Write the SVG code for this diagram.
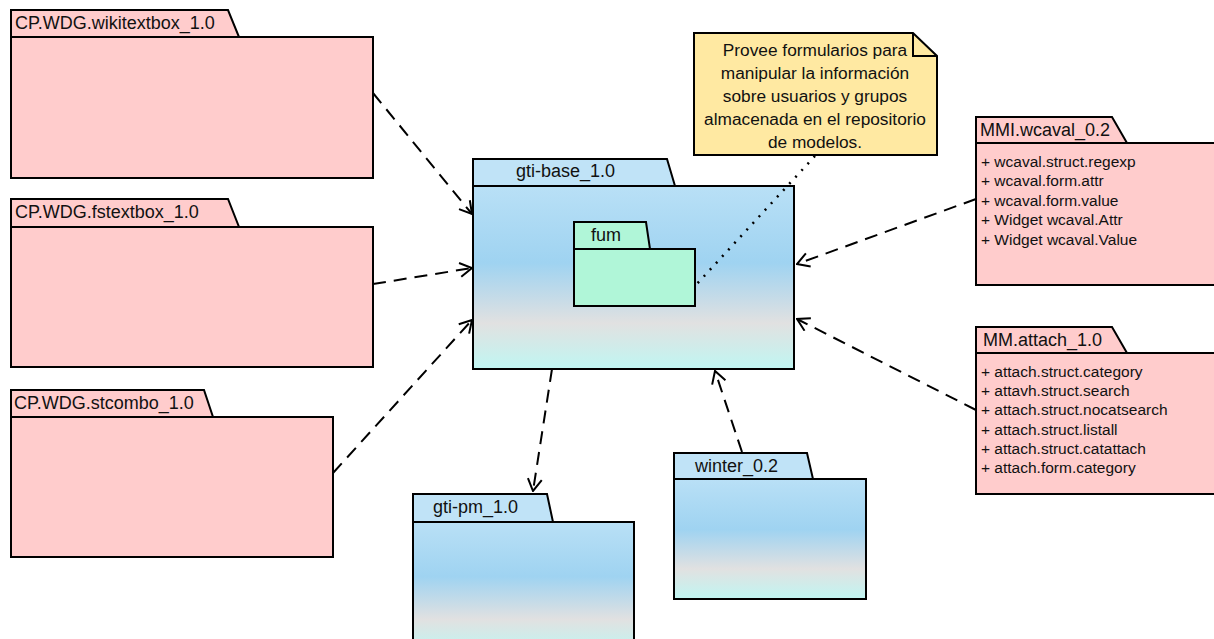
<svg xmlns="http://www.w3.org/2000/svg" width="1214" height="639" viewBox="0 0 1214 639">
<defs>
<linearGradient id="blue" x1="0" y1="0" x2="0" y2="1">
<stop offset="0" stop-color="#b9e0f6"/>
<stop offset="0.42" stop-color="#9fd3f1"/>
<stop offset="0.75" stop-color="#e1e1e1"/>
<stop offset="1" stop-color="#c0f6f2"/>
</linearGradient>
<marker id="arr" viewBox="0 0 14 16" refX="13" refY="8" markerWidth="14" markerHeight="16" markerUnits="userSpaceOnUse" orient="auto">
<path d="M1,1 L13,8 L1,15" fill="none" stroke="#000" stroke-width="2"/>
</marker>
<style>
.pk{stroke:#000;stroke-width:2;}
.pink{fill:#ffcccc;}
.tabb{fill:#c0e3f7;}
.bb{fill:url(#blue);}
.t{font-family:"Liberation Sans",Arial,sans-serif;font-size:18px;fill:#111;}
.s{font-family:"Liberation Sans",Arial,sans-serif;font-size:15.5px;fill:#111;}
.n{font-family:"Liberation Sans",Arial,sans-serif;font-size:17.3px;fill:#111;text-anchor:middle;}
.dep{fill:none;stroke:#000;stroke-width:2;stroke-dasharray:13 8;marker-end:url(#arr);}
</style>
</defs>
<rect width="1214" height="639" fill="#fff"/>

<g id="wikitextbox">
<path class="pk pink" d="M11,10 L228,10 L239,37 L11,37 Z"/>
<rect class="pk pink" x="11" y="37" width="362" height="141"/>
<text class="t" x="15" y="29">CP.WDG.wikitextbox_1.0</text>
</g>

<g id="fstextbox">
<path class="pk pink" d="M11,199 L228,199 L239,227 L11,227 Z"/>
<rect class="pk pink" x="11" y="227" width="362" height="140"/>
<text class="t" x="15" y="218">CP.WDG.fstextbox_1.0</text>
</g>

<g id="stcombo">
<path class="pk pink" d="M11,390 L204,390 L213,417 L11,417 Z"/>
<rect class="pk pink" x="11" y="417" width="322" height="140"/>
<text class="t" x="14" y="409">CP.WDG.stcombo_1.0</text>
</g>

<g id="gti-base">
<path class="pk tabb" d="M473,159 L667,159 L675,186 L473,186 Z"/>
<rect class="pk bb" x="473" y="186" width="321" height="183"/>
<text class="t" x="516" y="177">gti-base_1.0</text>
</g>

<g id="fum">
<path class="pk" fill="#b0f6d8" d="M574,222 L646,222 L650,249 L574,249 Z"/>
<rect class="pk" fill="#b0f6d8" x="574" y="249" width="121" height="57"/>
<text class="t" x="591" y="241">fum</text>
</g>

<g id="note">
<path class="pk" fill="#ffe9a2" d="M694,33 L913,33 L937,56 L937,155 L694,155 Z"/>
<path fill="none" stroke="#000" stroke-width="2" d="M913,33 L913,56 L937,56"/>
<text class="n" x="815" y="56">Provee formularios para</text>
<text class="n" x="815" y="79">manipular la información</text>
<text class="n" x="815" y="102">sobre usuarios y grupos</text>
<text class="n" x="815" y="125">almacenada en el repositorio</text>
<text class="n" x="815" y="148">de modelos.</text>
</g>

<g id="wcaval">
<path class="pk pink" d="M976,117 L1112,117 L1127,143 L976,143 Z"/>
<rect class="pk pink" x="976" y="143" width="250" height="142"/>
<text class="t" x="980" y="136">MMI.wcaval_0.2</text>
<text class="s" x="981" y="167">+ wcaval.struct.regexp</text>
<text class="s" x="981" y="186">+ wcaval.form.attr</text>
<text class="s" x="981" y="206">+ wcaval.form.value</text>
<text class="s" x="981" y="225">+ Widget wcaval.Attr</text>
<text class="s" x="981" y="245">+ Widget wcaval.Value</text>
</g>

<g id="attach">
<path class="pk pink" d="M976,327 L1112,327 L1127,353 L976,353 Z"/>
<rect class="pk pink" x="976" y="353" width="250" height="141"/>
<text class="t" x="983" y="346">MM.attach_1.0</text>
<text class="s" x="981" y="377">+ attach.struct.category</text>
<text class="s" x="981" y="396">+ attavh.struct.search</text>
<text class="s" x="981" y="415">+ attach.struct.nocatsearch</text>
<text class="s" x="981" y="435">+ attach.struct.listall</text>
<text class="s" x="981" y="454">+ attach.struct.catattach</text>
<text class="s" x="981" y="473">+ attach.form.category</text>
</g>

<g id="gti-pm">
<path class="pk tabb" d="M413,494 L547,494 L553,522 L413,522 Z"/>
<rect class="pk bb" x="413" y="522" width="221" height="130"/>
<text class="t" x="433" y="513">gti-pm_1.0</text>
</g>

<g id="winter">
<path class="pk tabb" d="M674,453 L807,453 L813,479 L674,479 Z"/>
<rect class="pk bb" x="674" y="479" width="192" height="120"/>
<text class="t" x="695" y="472">winter_0.2</text>
</g>

<g id="connectors">
<path class="dep" d="M373,93 L472,214"/>
<path class="dep" d="M373,284 L472,268"/>
<path class="dep" d="M333,473 L472,320"/>
<path class="dep" d="M552,369 L533,491"/>
<path class="dep" d="M742,452 L715,371"/>
<path class="dep" d="M976,199 L797,264"/>
<path class="dep" d="M976,410 L797,319"/>
<path fill="none" stroke="#000" stroke-width="2.5" stroke-dasharray="2 7" d="M815,156 L695,286"/>
</g>
</svg>
